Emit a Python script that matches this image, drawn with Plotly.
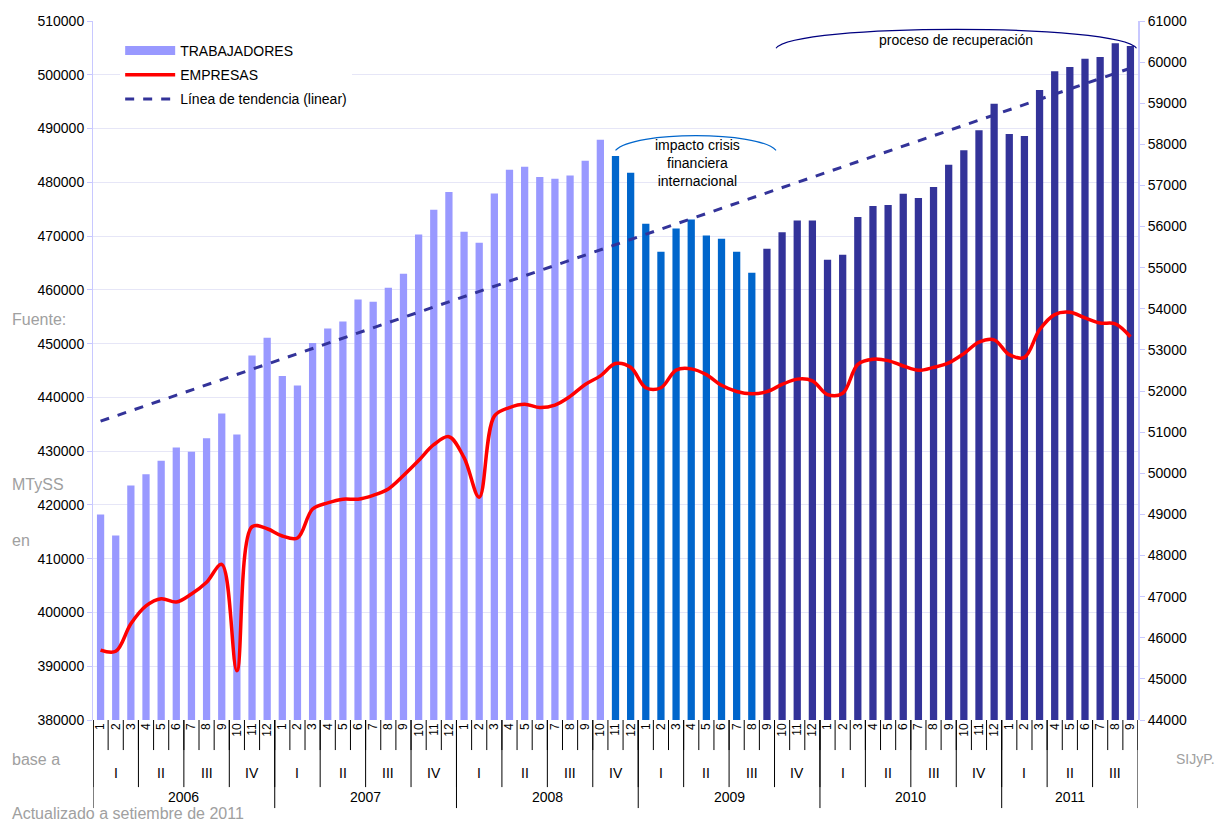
import numpy as np
import plotly.graph_objects as go

years = [2006, 2007, 2008, 2009, 2010, 2011]
months_per_year = [12, 12, 12, 12, 12, 9]
quarter_names = ["I", "II", "III", "IV"]

trabajadores = [
    418200, 414300, 423600, 425700, 428200, 430700, 429900, 432400, 437000, 433100, 447800, 451100,
    444000, 442200, 450100, 452800, 454100, 458200, 457800, 460400, 463000, 470300, 474900, 478200,
    470800, 468750, 477900, 482350, 482900, 481000, 480650, 481250, 484000, 487900, 484900, 481800,
    472300, 467100, 471400, 473100, 470100, 469500, 467100, 463200, 467650, 470700, 472900, 472900,
    465600, 466550, 473550, 475600, 475800, 477860, 477100, 479150, 483250, 485980, 489700, 494600,
    488970, 488630, 497160, 500670, 501430, 502970, 503310, 505880, 505370,
]
empresas = [
    45700, 45670, 46340, 46775, 46950, 46870, 47065, 47350, 47785, 45200, 48700, 48650,
    48475, 48425, 49130, 49280, 49370, 49370, 49465, 49620, 49946, 50310, 50695, 50890,
    50380, 49420, 51390, 51600, 51680, 51600, 51660, 51870, 52160, 52370, 52670, 52580,
    52080, 52080, 52510, 52540, 52400, 52140, 51990, 51935, 51985, 52160, 52290, 52250,
    51915, 51945, 52650, 52775, 52740, 52610, 52505, 52575, 52685, 52910, 53190, 53245,
    52885, 52820, 53490, 53860, 53915, 53780, 53655, 53635, 53320,
]
# periods: before crisis, crisis impact, recovery
period_lengths = [34, 10, 25]
period_colors = ["#9999FF", "#0066CC", "#333399"]

month_labels = [str(m) for y, n in zip(years, months_per_year) for m in range(1, n + 1)]
N = len(trabajadores)
xs = list(range(N))
bar_colors = [c for c, n in zip(period_colors, period_lengths) for _ in range(n)]

coef = np.polyfit(xs, trabajadores, 1)
trend = np.polyval(coef, xs)

FONT = "Arial, Liberation Sans, sans-serif"

fig = go.Figure()
fig.add_trace(go.Bar(x=xs, y=trabajadores, name="TRABAJADORES", showlegend=False,
                     marker=dict(color=bar_colors, line=dict(width=0)), width=0.48))
# legend proxy for the bars (wide rectangle symbol)
fig.add_trace(go.Scatter(x=[None], y=[None], name="TRABAJADORES", mode="lines",
                         legendgroup="a", line=dict(color="#9999FF", width=9)))
fig.add_trace(go.Scatter(x=xs, y=empresas, name="EMPRESAS", mode="lines", yaxis="y2",
                         legendgroup="b",
                         line=dict(color="#FF0000", width=3.5, shape="spline", smoothing=1.0)))
fig.add_trace(go.Scatter(x=xs, y=trend, name="Línea de tendencia (linear)", mode="lines",
                         legendgroup="c", line=dict(color="#333399", width=3, dash="dash")))

shapes = []
for i in range(N + 1):
    shapes.append(dict(type="line", xref="x", yref="paper", x0=i - 0.5, x1=i - 0.5,
                       y0=0, y1=-0.043, line=dict(color="black", width=1)))
annotations = []
start = 0
for y, n in zip(years, months_per_year):
    for q in range(n // 3):
        b = start + q * 3
        shapes.append(dict(type="line", xref="x", yref="paper", x0=b - 0.5, x1=b - 0.5,
                           y0=0, y1=-0.096, line=dict(color="black", width=1)))
        annotations.append(dict(x=b + 1, y=-0.076, xref="x", yref="paper", text=quarter_names[q],
                                showarrow=False, yanchor="middle",
                                font=dict(size=14, color="black", family=FONT)))
    shapes.append(dict(type="line", xref="x", yref="paper", x0=start - 0.5, x1=start - 0.5,
                       y0=0, y1=-0.126, line=dict(color="black", width=1)))
    annotations.append(dict(x=start + (n - 1) / 2, y=-0.110, xref="x", yref="paper", text=str(y),
                            showarrow=False, yanchor="middle",
                            font=dict(size=14, color="black", family=FONT)))
    start += n
shapes.append(dict(type="line", xref="x", yref="paper", x0=N - 0.5, x1=N - 0.5,
                   y0=0, y1=-0.126, line=dict(color="black", width=1)))


def arc(x0, x1, yend, ypeak, color):
    c = (ypeak - 0.25 * yend) / 0.75
    return dict(type="path", xref="x", yref="paper",
                path=f"M {x0},{yend} C {x0 + 1.2},{c} {x1 - 1.2},{c} {x1},{yend}",
                line=dict(color=color, width=1.2))


shapes.append(arc(34.0, 44.6, 0.815, 0.836, "#0066CC"))
shapes.append(arc(44.6, 68.4, 0.961, 0.988, "#000080"))

annotations.append(dict(x=39.4, y=0.797, xref="x", yref="paper", yanchor="middle",
                        text="impacto crisis<br>financiera<br>internacional", showarrow=False,
                        font=dict(size=14, color="black", family=FONT)))
annotations.append(dict(x=56.5, y=0.973, xref="x", yref="paper", yanchor="middle",
                        text="proceso de recuperación", showarrow=False,
                        font=dict(size=14, color="black", family=FONT)))

gray = "#A0A0A0"
side = [("Fuente:", 10, 319, 16), ("MTySS", 10, 484, 16), ("en", 10, 540, 16),
        ("base a", 10, 759, 16), ("SIJyP.", 1174, 759, 14),
        ("Actualizado a setiembre de 2011", 10, 813, 16)]
for t, px, py, fs in side:
    annotations.append(dict(x=(px - 93) / 1045, y=(720 - py) / 699, xref="paper", yref="paper",
                            text=t, showarrow=False, xanchor="left", yanchor="middle",
                            font=dict(size=fs, color=gray, family=FONT)))

fig.update_layout(
    width=1217, height=821,
    margin=dict(l=93, r=79, t=21, b=101),
    paper_bgcolor="white", plot_bgcolor="white",
    font=dict(family=FONT, size=14, color="black"),
    xaxis=dict(range=[-0.5, N - 0.5], tickmode="array", tickvals=xs, ticktext=month_labels,
               tickangle=-90, tickfont=dict(size=12), ticks="", showgrid=False, zeroline=False,
               showline=False),
    yaxis=dict(range=[380000, 510000], dtick=10000, tickformat="d", showgrid=True,
               gridcolor="#E6E6F7", gridwidth=1, zeroline=False, showline=True,
               linecolor="#C8C8FF", linewidth=1, ticks="outside", ticklen=5,
               tickcolor="#C8C8FF", tickfont=dict(size=14)),
    yaxis2=dict(range=[44000, 61000], dtick=1000, tickformat="d", overlaying="y", side="right",
                showgrid=False, zeroline=False, showline=True, linecolor="#C8C8FF", linewidth=2,
                ticks="outside", ticklen=5, tickcolor="#C8C8FF", tickfont=dict(size=14)),
    legend=dict(x=0.026, y=0.98, xanchor="left", yanchor="top", bgcolor="white",
                font=dict(size=14), tracegroupgap=3, itemwidth=50),
    showlegend=True,
    shapes=shapes,
    annotations=annotations,
)

fig.write_html("out.html", config={"displayModeBar": False},
               post_script="document.body.style.margin='0';")
